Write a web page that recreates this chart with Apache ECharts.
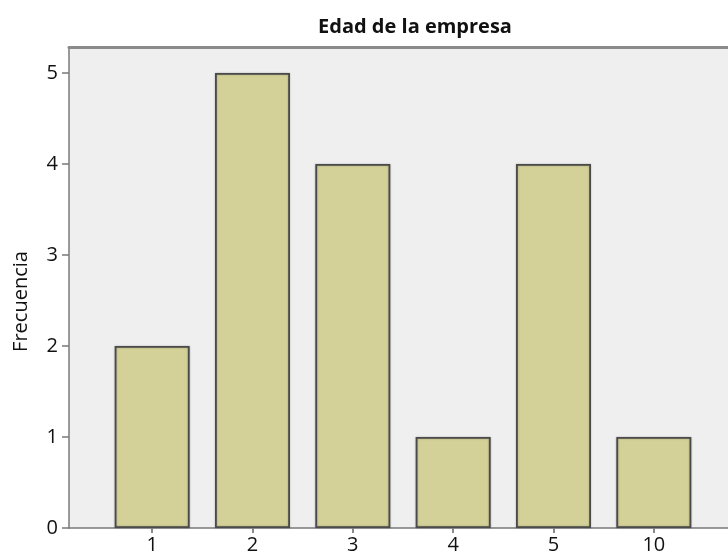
<!DOCTYPE html>
<html>
<head>
<meta charset="utf-8">
<script src="https://cdn.jsdelivr.net/npm/echarts@6/dist/echarts.min.js"></script>
<style>html,body{margin:0;padding:0;background:#fff;}#c{width:728px;height:556px;}</style>
</head>
<body>
<div id="c"></div>
<script>
const titleText = 'Edad de la empresa';
const yAxisName = 'Frecuencia';
const categories = ['1', '2', '3', '4', '5', '10'];
const frequencies = [2, 5, 4, 1, 4, 1];
const yTicks = [0, 1, 2, 3, 4, 5];

const FONT = '"Open Sans", "Noto Sans", sans-serif';
const Y_MAX = 5.286;

const chart = echarts.init(document.getElementById('c'), null, {renderer: 'canvas'});
chart.setOption({
  animation: false,
  backgroundColor: '#ffffff',
  title: {
    text: titleText,
    left: 410, top: 12, textAlign: 'center',
    textStyle: {fontFamily: FONT, fontSize: 20, fontWeight: 'bold', color: '#111'}
  },
  grid: [
    {left: 69, top: 47, right: -8, bottom: 28, show: true, backgroundColor: '#efefef', borderWidth: 0},
    {left: 102, top: 47, right: 24, bottom: 28}
  ],
  xAxis: [
    {gridIndex: 0, type: 'value', min: 0, max: 1, position: 'bottom',
     axisLine: {show: true, lineStyle: {color: '#7a7a7a', width: 1.5}},
     axisTick: {show: false}, axisLabel: {show: false}, splitLine: {show: false}},
    {gridIndex: 0, type: 'value', min: 0, max: 1, position: 'top',
     axisLine: {show: true, lineStyle: {color: '#8a8a8a', width: 3}},
     axisTick: {show: false}, axisLabel: {show: false}, splitLine: {show: false}},
    {gridIndex: 1, type: 'category', data: categories, position: 'bottom',
     axisLine: {show: false},
     axisTick: {show: true, alignWithLabel: true, length: 5, lineStyle: {color: '#8a8a8a', width: 2}},
     axisLabel: {fontFamily: FONT, fontSize: 20, color: '#111', margin: 7},
     splitLine: {show: false}}
  ],
  yAxis: [
    {gridIndex: 0, type: 'value', min: 0, max: Y_MAX, interval: 1,
     name: yAxisName, nameLocation: 'middle', nameGap: 38,
     nameTextStyle: {fontFamily: FONT, fontSize: 20, color: '#111', padding: [0, 28, 0, 0]},
     axisLine: {show: true, lineStyle: {color: '#7a7a7a', width: 1.5}},
     axisTick: {show: true, length: 7, customValues: yTicks, lineStyle: {color: '#7a7a7a', width: 1.5}},
     axisLabel: {customValues: yTicks, fontFamily: FONT, fontSize: 20, color: '#111', margin: 11},
     splitLine: {show: false}},
    {gridIndex: 1, type: 'value', min: 0, max: Y_MAX, show: false, splitLine: {show: false}}
  ],
  series: [{
    type: 'bar',
    xAxisIndex: 2, yAxisIndex: 1,
    data: frequencies,
    barWidth: 75,
    itemStyle: {color: '#d3d098', borderColor: '#4a4a4a', borderWidth: 1.8,
      shadowColor: 'rgba(0,0,0,0.25)', shadowBlur: 2}
  }]
});
</script>
</body>
</html>
